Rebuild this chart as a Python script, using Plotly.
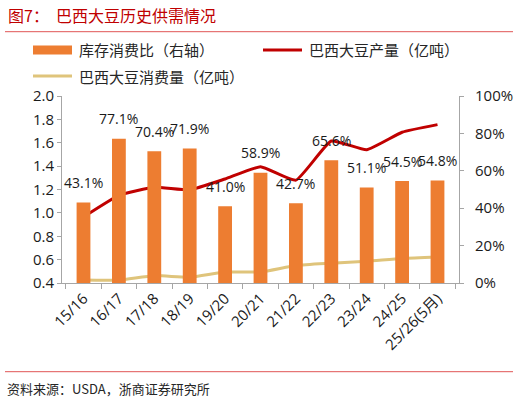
import plotly.graph_objects as go

seasons = ["15/16", "16/17", "17/18", "18/19", "19/20", "20/21",
           "21/22", "22/23", "23/24", "24/25", "25/26(5月)"]
stock_ratio = [0.431, 0.771, 0.704, 0.719, 0.410, 0.589, 0.427, 0.656, 0.511, 0.545, 0.548]
production = [0.965, 1.15, 1.22, 1.197, 1.29, 1.395, 1.28, 1.615, 1.54, 1.69, 1.755]
consumption = [0.426, 0.426, 0.463, 0.45, 0.494, 0.495, 0.549, 0.569, 0.586, 0.609, 0.622]

W, H = 520, 403
ML, MR, MT, MB = 62, 61, 96, 120
orange = "#ED7D31"
red = "#C00000"
gold = "#DFC47B"
axis_grey = "#A6A6A6"
num_font = "Open Sans, Noto Sans CJK SC"
cjk_font = "Noto Sans CJK SC, Noto Sans"


def px(x, y):
    # page pixels -> paper coords of the plot area
    pw, ph = W - ML - MR, H - MT - MB
    return (x - ML) / pw, (H - MB - y) / ph


fig = go.Figure()

fig.add_trace(go.Bar(
    x=seasons, y=stock_ratio, yaxis="y2",
    marker=dict(color=orange, line=dict(width=0)),
    name="库存消费比（右轴）",
))
fig.add_trace(go.Scatter(
    x=seasons, y=production, mode="lines",
    line=dict(color=red, width=3, shape="spline", smoothing=0.4),
    name="巴西大豆产量（亿吨）",
))
fig.add_trace(go.Scatter(
    x=seasons, y=consumption, mode="lines",
    line=dict(color=gold, width=3, shape="spline", smoothing=0.6),
    name="巴西大豆消费量（亿吨）",
))

# percentage labels above the bars
for s, v in zip(seasons, stock_ratio):
    fig.add_annotation(
        x=s, y=v, yref="y2", text=f"{v * 100:.1f}%",
        showarrow=False, yshift=20,
        font=dict(family=num_font, size=14, color="#1a1a1a"),
    )

# hand-drawn legend, laid out like the original (two rows)
legend_items = [
    ("rect", orange, "库存消费比（右轴）", 33, 50),
    ("line", red, "巴西大豆产量（亿吨）", 263, 50),
    ("line", gold, "巴西大豆消费量（亿吨）", 33, 76),
]
for kind, color, label, lx, ly in legend_items:
    x0, y0 = px(lx, ly)
    x1, _ = px(lx + 39, ly)
    if kind == "rect":
        _, yb = px(lx, ly + 4.5)
        _, yt = px(lx, ly - 4.5)
        fig.add_shape(type="rect", xref="paper", yref="paper",
                      x0=x0, x1=x1, y0=yb, y1=yt,
                      fillcolor=color, line=dict(width=0))
    else:
        fig.add_shape(type="line", xref="paper", yref="paper",
                      x0=x0, x1=x1, y0=y0, y1=y0,
                      line=dict(color=color, width=3))
    tx, ty = px(lx + 44, ly)
    fig.add_annotation(
        xref="paper", yref="paper", x=tx, y=ty, xanchor="left", yanchor="middle",
        text=label, showarrow=False,
        font=dict(family=cjk_font, size=15, color="#262626"),
    )

tx, ty = px(6, 15)
fig.add_annotation(
    xref="paper", yref="paper", x=tx, y=ty, xanchor="left", yanchor="middle",
    text="图7：  巴西大豆历史供需情况", showarrow=False,
    font=dict(family=cjk_font, size=16, color=red),
)
tx, ty = px(5, 388)
fig.add_annotation(
    xref="paper", yref="paper", x=tx, y=ty, xanchor="left", yanchor="middle",
    text="资料来源：USDA，浙商证券研究所", showarrow=False,
    font=dict(family=cjk_font, size=13, color="#262626"),
)
for rule_y in (31.7, 371.7):
    x0, y0 = px(5, rule_y)
    x1, _ = px(513, rule_y)
    fig.add_shape(type="line", xref="paper", yref="paper",
                  x0=x0, x1=x1, y0=y0, y1=y0,
                  line=dict(color="#E05555", width=1))

fig.update_layout(
    width=W, height=H,
    margin=dict(l=ML, r=MR, t=MT, b=MB, autoexpand=False),
    paper_bgcolor="white", plot_bgcolor="white",
    bargap=0.61, showlegend=False,
    font=dict(family=num_font, size=15, color="#1a1a1a"),
    xaxis=dict(
        type="category", showline=True, linecolor=axis_grey, linewidth=1,
        ticks="outside", tickson="boundaries", ticklen=5, tickcolor=axis_grey,
        tickangle=-45, tickfont=dict(size=15), showgrid=False,
    ),
    yaxis=dict(
        range=[0.4, 2.0], dtick=0.2, tickformat=".1f",
        showline=True, linecolor=axis_grey, ticks="outside", ticklen=4,
        tickcolor=axis_grey, showgrid=False, zeroline=False,
    ),
    yaxis2=dict(
        range=[0, 1], dtick=0.2, tickformat=".0%", overlaying="y", side="right",
        showline=True, linecolor=axis_grey, ticks="outside", ticklen=4,
        tickcolor=axis_grey, showgrid=False, zeroline=False,
        ticklabelstandoff=8,
    ),
)

# page body has a default 8px margin; drop it so the figure fills the window
fig.write_html("out.html", config={"displayModeBar": False},
               post_script="document.body.style.margin = '0';")
